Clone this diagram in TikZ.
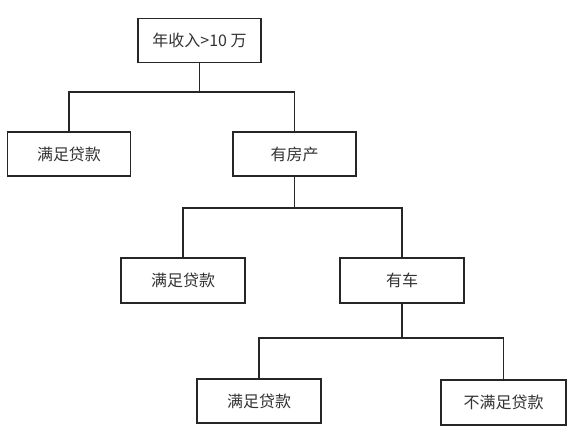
\documentclass[tikz,border=0pt]{standalone}
\usepackage{fontspec}
\setmainfont{Noto Sans CJK SC}
\begin{document}
\begin{tikzpicture}[x=1pt,y=-1pt,
  box/.style={draw=black!85,line width=1.7pt,minimum width=123pt,minimum height=44pt,inner sep=0pt,
    font=\fontsize{16}{18}\selectfont,text=black!80},
  link/.style={draw=black!85,line width=1.7pt}]
\useasboundingbox (0,0) rectangle (576,438);
\fill[white] (0,0) rectangle (576,438);
\node[box] (root) at (199.5,40.5) {年收入>10 万};
\node[box] (l1) at (69,154) {满足贷款};
\node[box] (house) at (294.5,154) {有房产};
\node[box,minimum width=124pt,minimum height=45pt] (l2) at (183,280.5) {满足贷款};
\node[box,minimum width=124pt,minimum height=45pt] (car) at (402,280.5) {有车};
\node[box,minimum width=124pt] (l3) at (259,401) {满足贷款};
\node[box,minimum width=125pt,minimum height=45pt] (no) at (503.5,402.5) {不满足贷款};
\coordinate (b1) at (199.5,92);
\coordinate (b2) at (294.5,208);
\coordinate (b3) at (402,338);
\draw[link] (root.south) -- (b1);
\draw[link] (l1.north) |- (b1) -| (house.north);
\draw[link] (house.south) -- (b2);
\draw[link] (l2.north) |- (b2) -| (car.north);
\draw[link] (car.south) -- (b3);
\draw[link] (l3.north) |- (b3) -| (no.north);
\end{tikzpicture}
\end{document}
